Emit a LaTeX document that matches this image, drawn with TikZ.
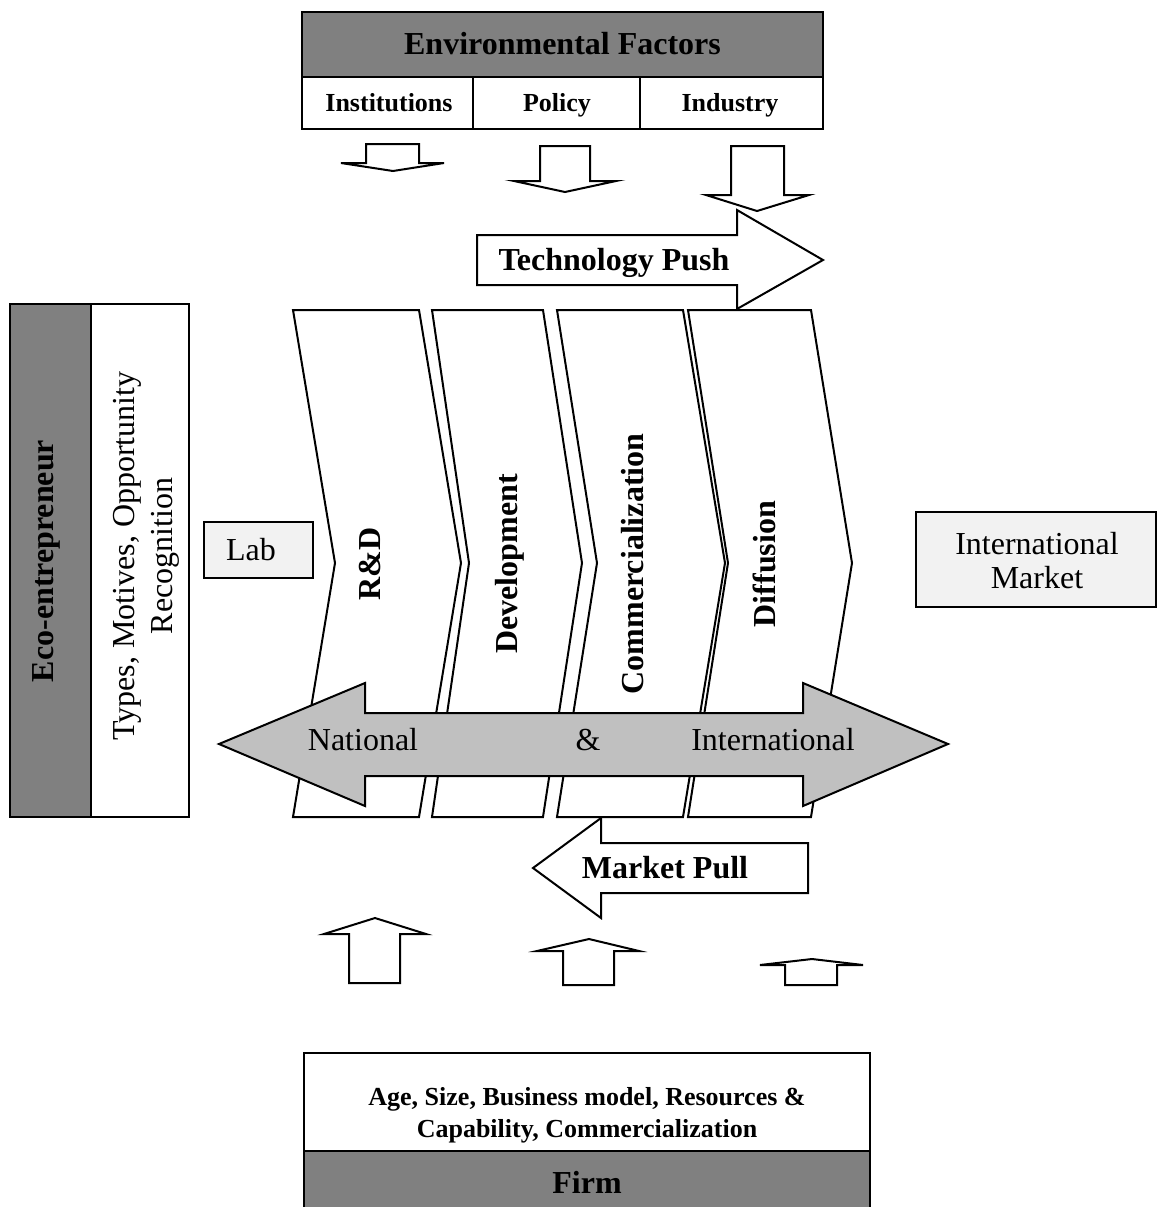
\documentclass[tikz,border=0pt]{standalone}
\usepackage{fontspec}
\setmainfont{Liberation Serif}
\definecolor{hdrgray}{RGB}{128,128,128}
\definecolor{bandgray}{RGB}{192,192,192}
\definecolor{boxgray}{RGB}{242,242,242}
\begin{document}
\begin{tikzpicture}[x=0.5pt,y=-0.5pt,
  outline/.style={draw=black, line width=1pt, line join=miter},
  big/.style={font=\fontsize{16}{19}\selectfont, text height=10.6pt, text depth=0pt, inner sep=0pt},
  bigbold/.style={big, font=\fontsize{16}{19}\selectfont\bfseries},
  smallbold/.style={font=\fontsize{13}{15}\selectfont\bfseries, text height=8.6pt, text depth=0pt, inner sep=0pt},
]
\useasboundingbox (0,0) rectangle (1157,1207);

% ---- environmental factors header ----
\path[outline, fill=hdrgray] (302,12) rectangle (823,77);
\path[outline, fill=white] (302,77) rectangle (823,129);
\draw[line width=1pt] (473,77) -- (473,129) (640,77) -- (640,129);
\node[bigbold] (env) at (562.5,44) {Environmental Factors};
\node[smallbold] (inst) at (389,103) {Institutions};
\node[smallbold] (policy) at (557,103) {Policy};
\node[smallbold] (industry) at (730,103) {Industry};

% ---- process chevrons ----
\path[outline, fill=white] (293,310) -- (419,310) -- (461,563) -- (419,817) -- (293,817) -- (335,563) -- cycle;
\path[outline, fill=white] (432,310) -- (543,310) -- (582,563) -- (543,817) -- (432,817) -- (469,563) -- cycle;
\path[outline, fill=white] (557,310) -- (683,310) -- (725,563) -- (683,817) -- (557,817) -- (597,563) -- cycle;
\path[outline, fill=white] (688,310) -- (811,310) -- (852,563) -- (811,817) -- (688,817) -- (728,563) -- cycle;
\node[bigbold, rotate=90] (rd) at (370,564) {R\&D};
\node[bigbold, rotate=90] (dev) at (507,564) {Development};
\node[bigbold, rotate=90] (comm) at (633,564) {Commercialization};
\node[bigbold, rotate=90] (diff) at (765,564) {Diffusion};

% ---- technology push ----
\path[outline, fill=white] (477,235) -- (737,235) -- (737,210) -- (823,260) -- (737,309) -- (737,285) -- (477,285) -- cycle;
\node[bigbold] (push) at (614,260) {Technology Push};

% ---- downward influence arrows ----
\path[outline, fill=white] (366,144) -- (419,144) -- (419,163) -- (444,163) -- (393,171) -- (341,163) -- (366,163) -- cycle;
\path[outline, fill=white] (540,146) -- (590,146) -- (590,181) -- (616,181) -- (565,192) -- (514,181) -- (540,181) -- cycle;
\path[outline, fill=white] (731,146) -- (784,146) -- (784,195) -- (809,195) -- (757,211) -- (706,195) -- (731,195) -- cycle;

% ---- eco-entrepreneur panel ----
\path[outline, fill=hdrgray] (10,304) rectangle (91,817);
\path[outline, fill=white] (91,304) rectangle (189,817);
\node[bigbold, rotate=90] (eco) at (43,561) {Eco-entrepreneur};
\node[font=\fontsize{16}{19}\selectfont, align=center, inner sep=0pt, rotate=90] (types) at (146,556) {Types, Motives, Opportunity\\Recognition};

% ---- lab and market boxes ----
\path[outline, fill=boxgray] (204,522) rectangle (313,578);
\node[big] (lab) at (251,550) {Lab};
\path[outline, fill=boxgray] (916,512) rectangle (1156,607);
\node[font=\fontsize{16}{17}\selectfont, align=center, inner sep=0pt] (intmkt) at (1037,561) {International\\Market};

% ---- national & international band ----
\path[outline, fill=bandgray] (219,744) -- (365,683) -- (365,713) -- (803,713) -- (803,683) -- (948,744) -- (803,806) -- (803,776) -- (365,776) -- (365,806) -- cycle;
\node[big] (nat) at (363,740) {National};
\node[big] (amp) at (588,740) {\&};
\node[big] (intl) at (773,740) {International};

% ---- market pull ----
\path[outline, fill=white] (533,868) -- (601,818) -- (601,843) -- (808,843) -- (808,893) -- (601,893) -- (601,918) -- cycle;
\node[bigbold] (pull) at (665,868) {Market Pull};

% ---- upward influence arrows ----
\path[outline, fill=white] (375,918) -- (426,934) -- (400,934) -- (400,983) -- (349,983) -- (349,934) -- (324,934) -- cycle;
\path[outline, fill=white] (589,939) -- (639,951) -- (614,951) -- (614,985) -- (563,985) -- (563,951) -- (537,951) -- cycle;
\path[outline, fill=white] (812,959) -- (863,965) -- (837,965) -- (837,985) -- (785,985) -- (785,965) -- (760,965) -- cycle;

% ---- firm panel ----
\path[outline, fill=white] (304,1053) rectangle (870,1151);
\path[outline, fill=hdrgray] (304,1151) rectangle (870,1215);
\node[font=\fontsize{13}{16}\selectfont\bfseries, align=center, inner sep=0pt] (firmattr) at (587,1115) {Age, Size, Business model, Resources \&\\Capability, Commercialization};
\node[bigbold] (firm) at (587,1183) {Firm};
\end{tikzpicture}
\end{document}
